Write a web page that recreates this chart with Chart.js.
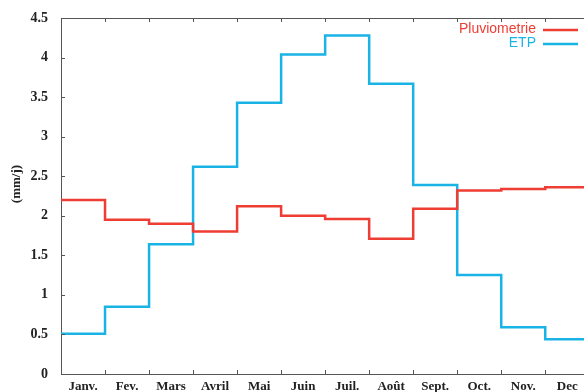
<!DOCTYPE html>
<html>
<head>
<meta charset="utf-8">
<script src="https://cdn.jsdelivr.net/npm/chart.js@4/dist/chart.umd.min.js"></script>
<style>
  html, body { margin: 0; padding: 0; background: #fff; }
  #wrap { width: 584px; height: 392px; }
</style>
</head>
<body>
<div id="wrap"><canvas id="c"></canvas></div>
<script>
"use strict";

// monthly values, mm/day
const MONTHS = ["Janv.", "Fev.", "Mars", "Avril", "Mai", "Juin", "Juil.", "Août", "Sept.", "Oct.", "Nov.", "Dec"];
const PLUVIO = [2.2, 1.95, 1.9, 1.8, 2.12, 2.0, 1.96, 1.71, 2.09, 2.32, 2.34, 2.36];
const ETP    = [0.51, 0.85, 1.64, 2.62, 3.43, 4.04, 4.28, 3.67, 2.39, 1.25, 0.59, 0.44];
const Y_TICKS = [0, 0.5, 1, 1.5, 2, 2.5, 3, 3.5, 4, 4.5];

const RED = "#ee3d33", BLUE = "#1ab3e6", AXIS = "#555";
const SERIF = "'Liberation Serif', 'DejaVu Serif', serif";

// each month is one step: value i spans [i, i+1]
const steps = (vals) => vals.map((v, i) => ({ x: i, y: v })).concat([{ x: vals.length, y: vals[vals.length - 1] }]);

// inward tick marks + top frame, legend text-before-line, rotated y title
const decor = {
  id: "decor",
  afterDraw(chart) {
    const { ctx, chartArea: a, scales: { x, y } } = chart;
    ctx.save();
    ctx.strokeStyle = AXIS; ctx.lineWidth = 1;
    ctx.beginPath();
    ctx.moveTo(a.left, a.top + 0.5); ctx.lineTo(a.right, a.top + 0.5);
    for (let m = 1; m <= MONTHS.length; m++) {
      const px = Math.round(x.getPixelForValue(m)) + 0.5;
      if (px > a.right) break;
      ctx.moveTo(px, a.bottom); ctx.lineTo(px, a.bottom - 4);
      ctx.moveTo(px, a.top); ctx.lineTo(px, a.top + 4);
    }
    Y_TICKS.forEach((v) => {
      const py = Math.round(y.getPixelForValue(v)) + 0.5;
      ctx.moveTo(a.left, py); ctx.lineTo(a.left + 4, py);
    });
    ctx.stroke();

    ctx.font = "14px 'Liberation Sans', Arial, sans-serif";
    ctx.textAlign = "right"; ctx.textBaseline = "middle";
    chart.data.datasets.forEach((ds, i) => {
      const ty = 29 + i * 14;
      ctx.fillStyle = ds.borderColor;
      ctx.fillText(ds.label, 536, ty);
      ctx.strokeStyle = ds.borderColor; ctx.lineWidth = 2.5;
      ctx.beginPath(); ctx.moveTo(543, ty + 1); ctx.lineTo(578, ty + 1); ctx.stroke();
    });

    ctx.translate(17, 184); ctx.rotate(-Math.PI / 2);
    ctx.font = "bold 13px " + SERIF; ctx.fillStyle = "#222";
    ctx.textAlign = "center";
    ctx.fillText("(mm/j)", 0, 0);
    ctx.restore();
  },
};

new Chart(document.getElementById("c"), {
  type: "line",
  data: {
    datasets: [
      { label: "Pluviometrie", data: steps(PLUVIO), borderColor: RED, borderWidth: 2.5,
        pointRadius: 0, stepped: "before" },
      { label: "ETP", data: steps(ETP), borderColor: BLUE, borderWidth: 2.5,
        pointRadius: 0, stepped: "before" },
    ],
  },
  options: {
    responsive: true, maintainAspectRatio: false, animation: false,
    layout: { padding: { top: 18, right: 0, left: 0, bottom: 0 } },
    plugins: { legend: { display: false }, tooltip: { enabled: false } },
    scales: {
      x: {
        type: "linear", min: 0, max: 11.88,
        afterBuildTicks: (s) => { s.ticks = MONTHS.map((_, i) => ({ value: i + 0.5 })); },
        afterFit: (s) => { s.height = 18; },
        ticks: { autoSkip: false, maxRotation: 0, padding: -3, color: "#222",
                 font: { family: SERIF, size: 13, weight: "bold" },
                 callback: (v) => MONTHS[Math.floor(v)] },
        grid: { display: false },
        border: { display: true, color: AXIS, width: 1 },
      },
      y: {
        min: 0, max: 4.5,
        afterBuildTicks: (s) => { s.ticks = Y_TICKS.map((v) => ({ value: v })); },
        afterFit: (s) => { s.width = 61; },
        ticks: { padding: 5, color: "#222", font: { family: SERIF, size: 14, weight: "bold" },
                 callback: (v) => String(v) },
        grid: { display: false },
        border: { display: true, color: AXIS, width: 1 },
      },
    },
  },
  plugins: [decor],
});
</script>
</body>
</html>
